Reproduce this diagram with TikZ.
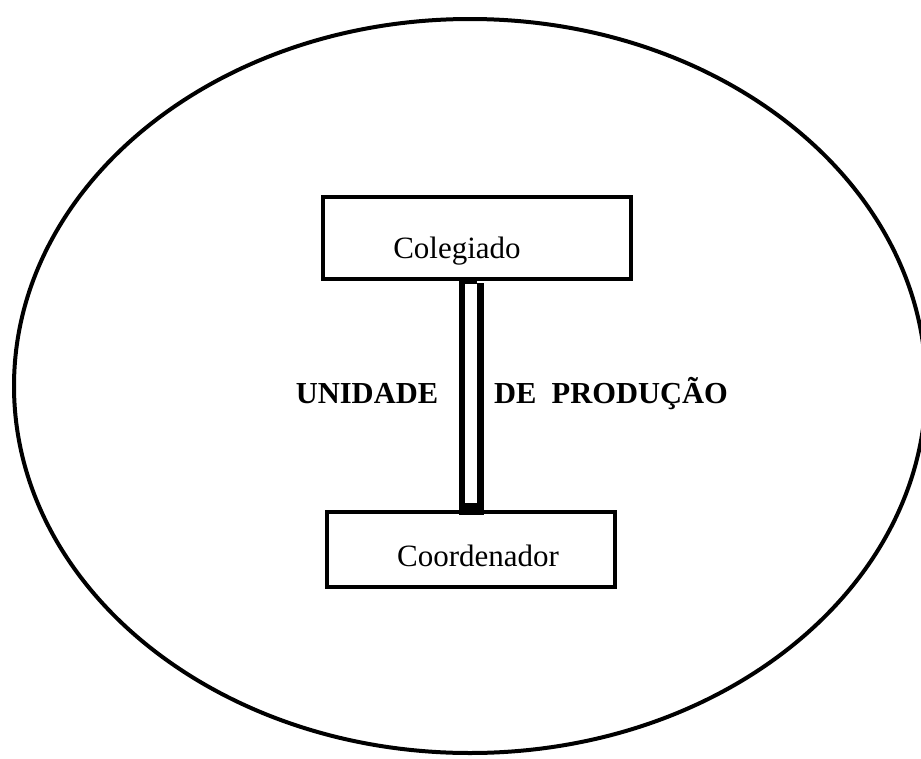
\documentclass[tikz,border=0pt]{standalone}
\usepackage{fontspec}
\setmainfont{Liberation Serif}
\usetikzlibrary{shapes.geometric}

\begin{document}
\begin{tikzpicture}[x = 1pt, y = -1pt,
    unit/.style = {draw, rectangle, line width = 3.5pt, inner sep = 0pt},
    role/.style = {font = \fontsize{31}{31}\selectfont, anchor = base, inner sep = 0pt},
    title/.style = {font = \fontsize{30.5}{30.5}\selectfont\bfseries, anchor = base, inner sep = 0pt},
    link/.style = {line width = 6.5pt, double, double distance = 12pt}]
    \useasboundingbox (0, 0) rectangle (921, 758);
    \node[draw, ellipse, line width = 4pt, inner sep = 0pt, minimum width = 912pt, minimum height = 734pt] (unidade) at (470, 386) {};
    \node[unit, minimum width = 308pt, minimum height = 82pt] (colegiado) at (477, 238) {};
    \node[unit, minimum width = 288pt, minimum height = 75pt] (coordenador) at (471, 549.5) {};
    \node[role] (colegiadotxt) at (457, 258) {Colegiado};
    \node[role] (coordenadortxt) at (478, 566) {Coordenador};
    \coordinate (top) at (coordenador.north |- colegiado.south);
    \draw[link, shorten <= 2pt, shorten >= 2pt] (coordenador.north) -- (top);
    \fill ([xshift = -12.5pt, yshift = 2pt]top) rectangle ([xshift = 6pt, yshift = -3pt]top);
    \fill ([xshift = -12.5pt, yshift = 7pt]coordenador.north) rectangle ([xshift = 12.5pt, yshift = -5pt]coordenador.north);
    \node[title] (unid) at (367, 403) {UNIDADE};
    \node[title] (prod) at (611, 403) {DE\ \ PRODUÇÃO};
\end{tikzpicture}
\end{document}
